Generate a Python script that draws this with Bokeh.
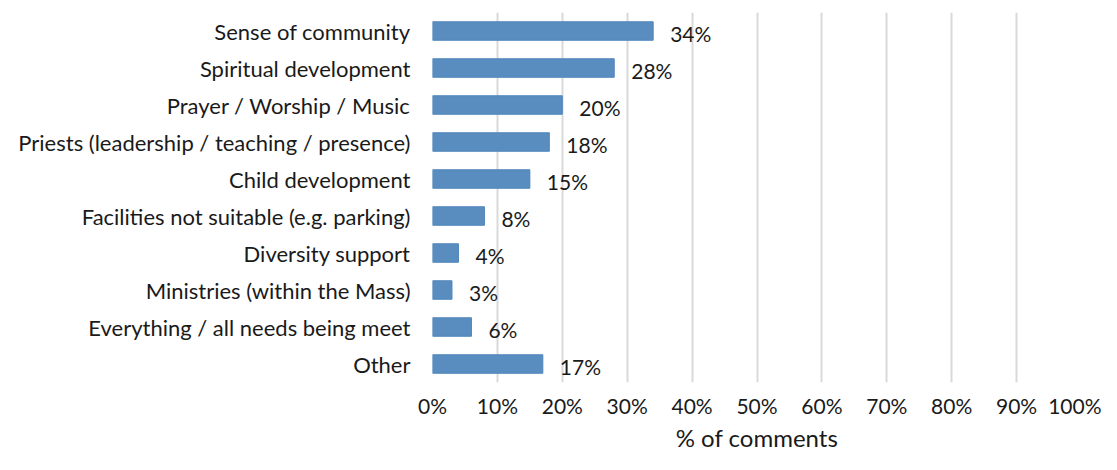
from bokeh.plotting import figure
from bokeh.models import ColumnDataSource, FixedTicker
from bokeh.embed import file_html
from bokeh.resources import INLINE
from bokeh.core.properties import value

categories = [
    "Sense of community",
    "Spiritual development",
    "Prayer / Worship / Music",
    "Priests (leadership / teaching / presence)",
    "Child development",
    "Facilities not suitable (e.g. parking)",
    "Diversity support",
    "Ministries (within the Mass)",
    "Everything / all needs being meet",
    "Other",
]
values = [34, 28, 20, 18, 15, 8, 4, 3, 6, 17]
tick_values = [0, 10, 20, 30, 40, 50, 60, 70, 80, 90, 100]
tick_labels = ["0%", "10%", "20%", "30%", "40%", "50%", "60%", "70%", "80%", "90%", "100%"]
x_title = "% of comments"

FONT = "Lato"
TXT = "#1a1a1a"

src = ColumnDataSource(dict(cat=categories, val=values, lab=[f"{v}%" for v in values]))

p = figure(
    y_range=list(reversed(categories)), x_range=(0, 100),
    width=1101, height=454, output_backend="svg", toolbar_location=None,
    min_border_left=432, min_border_right=20, min_border_top=12, min_border_bottom=64,
)
p.outline_line_color = None
p.hbar(y="cat", right="val", left=0, height=0.5, source=src,
       fill_color="#5a8dbf", line_color="#4f86bb", line_width=1)
p.text(x="val", y="cat", text="lab", source=src, x_offset=17, y_offset=2,
       text_align="left", text_baseline="middle", text_font=value(FONT),
       text_font_size="21px", text_color=TXT)

p.xgrid.ticker = FixedTicker(ticks=tick_values)
p.xgrid.grid_line_color = "#d9d9d9"
p.xgrid.grid_line_width = 2
p.ygrid.grid_line_color = None

p.xaxis.ticker = FixedTicker(ticks=tick_values)
p.xaxis.major_label_overrides = {t: l for t, l in zip(tick_values, tick_labels)}
p.xaxis.axis_label = x_title
for ax in (p.xaxis, p.yaxis):
    ax.axis_line_color = None
    ax.major_tick_line_color = None
    ax.minor_tick_line_color = None
    ax.major_tick_out = 0
    ax.major_tick_in = 0
    ax.major_label_text_font = FONT
    ax.major_label_text_color = TXT
p.xaxis.major_label_text_font_size = "21px"
p.yaxis.major_label_text_font_size = "22px"
p.xaxis.major_label_standoff = 10
p.yaxis.major_label_standoff = 22
p.xaxis.axis_label_text_font = FONT
p.xaxis.axis_label_text_font_size = "24px"
p.xaxis.axis_label_text_font_style = "normal"
p.xaxis.axis_label_text_color = TXT
p.xaxis.axis_label_standoff = 2

open("out.html", "w").write(file_html(p, INLINE))
